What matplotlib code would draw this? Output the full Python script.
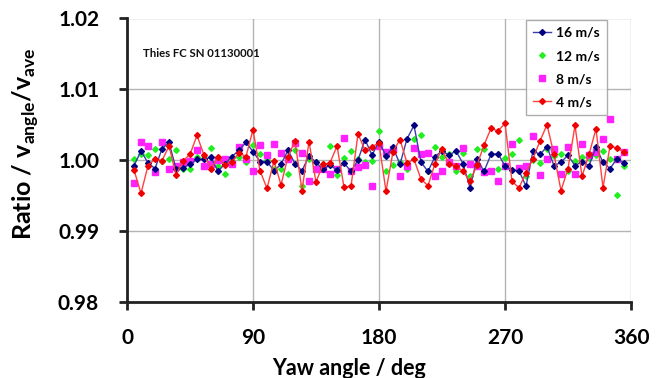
import matplotlib
matplotlib.use("Agg")
import matplotlib.pyplot as plt
import numpy as np

plt.rcParams['font.family'] = ['Lato', 'DejaVu Sans']
plt.rcParams['mathtext.fontset'] = 'custom'
plt.rcParams['mathtext.rm'] = 'Lato'
plt.rcParams['mathtext.bf'] = 'Lato:bold'

yaw = list(range(5, 360, 5))

v16 = [0.9992, 1.0013, 0.9996, 0.9988, 1.0016, 1.0025, 0.9988, 0.9989, 0.9994, 1.0001,
       1.0001, 1.0004, 0.9984, 0.9995, 1.0005, 1.0014, 1.0025, 1.0012, 0.9998, 0.9998,
       0.9985, 0.9994, 1.0014, 0.9995, 0.9985, 1.0006, 0.9997, 0.9987, 0.9993, 0.9986,
       0.9996, 0.9984, 1.0000, 1.0029, 1.0007, 1.0026, 1.0006, 1.0018, 0.9994, 1.0030,
       1.0049, 0.9997, 0.9984, 1.0005, 1.0013, 1.0007, 1.0013, 0.9995, 0.9961, 1.0002,
       0.9984, 1.0008, 1.0009, 0.9992, 0.9986, 0.9985, 0.9963, 1.0013, 1.0008, 1.0019,
       0.9992, 0.9997, 1.0007, 0.9992, 0.9998, 0.9992, 1.0018, 0.9997, 0.9988, 1.0002,
       0.9996]

v12 = [1.0002, 1.0008, 1.0007, 1.0015, 0.9999, 1.0001, 1.0014, 0.9987, 0.9987, 1.0005,
       1.0003, 1.0017, 0.9992, 0.9980, 0.9999, 1.0004, 0.9997, 1.0022, 1.0008, 1.0000,
       0.9988, 0.9987, 0.9981, 1.0014, 0.9964, 1.0001, 0.9997, 0.9995, 1.0020, 0.9979,
       1.0003, 1.0013, 1.0001, 0.9998, 0.9999, 1.0041, 0.9984, 0.9993, 0.9997, 0.9987,
       1.0030, 1.0035, 0.9984, 1.0019, 1.0004, 1.0009, 0.9984, 1.0010, 0.9978, 1.0015,
       1.0015, 0.9984, 0.9987, 1.0003, 1.0009, 1.0028, 0.9977, 1.0000, 0.9996, 1.0016,
       1.0006, 1.0009, 0.9985, 0.9999, 1.0004, 1.0003, 1.0007, 1.0013, 1.0001, 0.9950,
       0.9991]

v8 = [0.9968, 1.0025, 1.0020, 0.9983, 1.0025, 0.9988, 0.9992, 0.9998, 0.9999, 1.0014,
      0.9992, 0.9994, 1.0000, 1.0001, 0.9994, 1.0018, 1.0001, 0.9985, 1.0021, 1.0007,
      1.0023, 1.0010, 1.0002, 1.0024, 1.0010, 0.9971, 0.9988, 0.9987, 0.9981, 0.9987,
      1.0031, 0.9984, 0.9990, 0.9993, 0.9963, 1.0020, 1.0012, 1.0015, 0.9977, 0.9991,
      1.0017, 1.0009, 1.0010, 0.9977, 0.9985, 0.9998, 0.9991, 1.0017, 0.9995, 0.9991,
      0.9983, 0.9985, 0.9971, 0.9992, 1.0023, 0.9989, 0.9992, 1.0034, 0.9979, 1.0002,
      1.0016, 0.9981, 1.0018, 0.9980, 1.0023, 1.0007, 1.0011, 1.0030, 1.0058, 1.0002,
      1.0012]

v4 = [0.9986, 0.9953, 0.9992, 1.0002, 0.9999, 1.0020, 0.9979, 0.9999, 1.0008, 1.0035,
      1.0007, 0.9988, 1.0004, 0.9993, 0.9998, 1.0010, 1.0005, 1.0043, 0.9985, 0.9960,
      0.9999, 0.9965, 1.0005, 1.0027, 0.9957, 1.0026, 0.9969, 0.9994, 0.9996, 1.0020,
      0.9962, 0.9963, 1.0037, 1.0014, 1.0019, 1.0024, 0.9956, 1.0012, 1.0029, 0.9996,
      1.0001, 0.9973, 0.9964, 0.9995, 1.0016, 0.9994, 0.9992, 0.9984, 0.9970, 0.9993,
      1.0021, 1.0045, 1.0041, 1.0052, 0.9970, 0.9961, 0.9982, 1.0002, 1.0027, 1.0050,
      1.0008, 0.9957, 0.9988, 1.0049, 0.9977, 1.0008, 1.0044, 0.9961, 1.0020, 1.0017,
      1.0011]

xticks = [0, 90, 180, 270, 360]
yticks = [0.98, 0.99, 1.00, 1.01, 1.02]

W, H = 661, 378
fig = plt.figure(figsize=(W / 100, H / 100), dpi=100)
ax = fig.add_axes([127 / W, 1 - 301.7 / H, (631 - 127) / W, (301.7 - 18.5) / H])

ax.plot(yaw, v16, color='#3c3ca8', lw=1.0, marker='D', ms=3.0,
        mfc='#000080', mec='#000080', label='16 m/s', zorder=3)
ax.plot(yaw, v12, ls='none', marker='D', ms=2.9, mfc='#22ee22', mec='#22ee22',
        label='12 m/s', zorder=2)
ax.plot(yaw, v8, ls='none', marker='s', ms=4.2, mfc='#ff22ff', mec='#ff22ff',
        label='8 m/s', zorder=2)
ax.plot(yaw, v4, color='#ff4040', lw=1.0, marker='D', ms=3.0,
        mfc='#ee0000', mec='#ee0000', label='4 m/s', zorder=4)

ax.set_xlim(0, 360)
ax.set_ylim(0.98, 1.02)
ax.set_xticks(xticks)
ax.set_yticks(yticks)
ax.set_yticklabels([f"{v:.2f}" for v in yticks])
ax.grid(True, color='#b4b4b4', lw=1.0)
ax.set_axisbelow(True)
for s in ['top', 'right']:
    ax.spines[s].set_visible(False)
for s in ['left', 'bottom']:
    ax.spines[s].set_linewidth(2.0)
    ax.spines[s].set_color('#222222')
ax.tick_params(axis='both', direction='out', length=6, width=2, color='#222222',
               labelsize=15)
ax.tick_params(axis='y', pad=14)
ax.tick_params(axis='x', pad=13)
for lab in ax.get_xticklabels() + ax.get_yticklabels():
    lab.set_fontweight('bold')

ax.text(11.5, 1.0151, 'Thies FC SN 01130001', fontsize=8.2, fontweight='bold',
        va='center', ha='left', color='#111111')

fig.text(26 / W, 1 - 144 / H, r'Ratio / v$_{\mathbf{angle}}$/v$_{\mathbf{ave}}$',
         rotation=90, fontsize=18, fontweight='bold', ha='center', va='center')
fig.text(349 / W, 1 - 358 / H, 'Yaw angle / deg', fontsize=15.5, fontweight='bold',
         ha='center', va='top')

leg = ax.legend(loc='upper right', bbox_to_anchor=((607 - 127) / 504, (301.7 - 20) / 283.2),
                frameon=True, fancybox=False, prop={'weight': 'bold', 'size': 10},
                handlelength=1.3, labelspacing=0.8, borderpad=0.5, handletextpad=0.4,
                borderaxespad=0.0)
leg.get_frame().set_edgecolor('#999999')
leg.get_frame().set_linewidth(1.0)

fig.savefig('out.png', dpi=100)
